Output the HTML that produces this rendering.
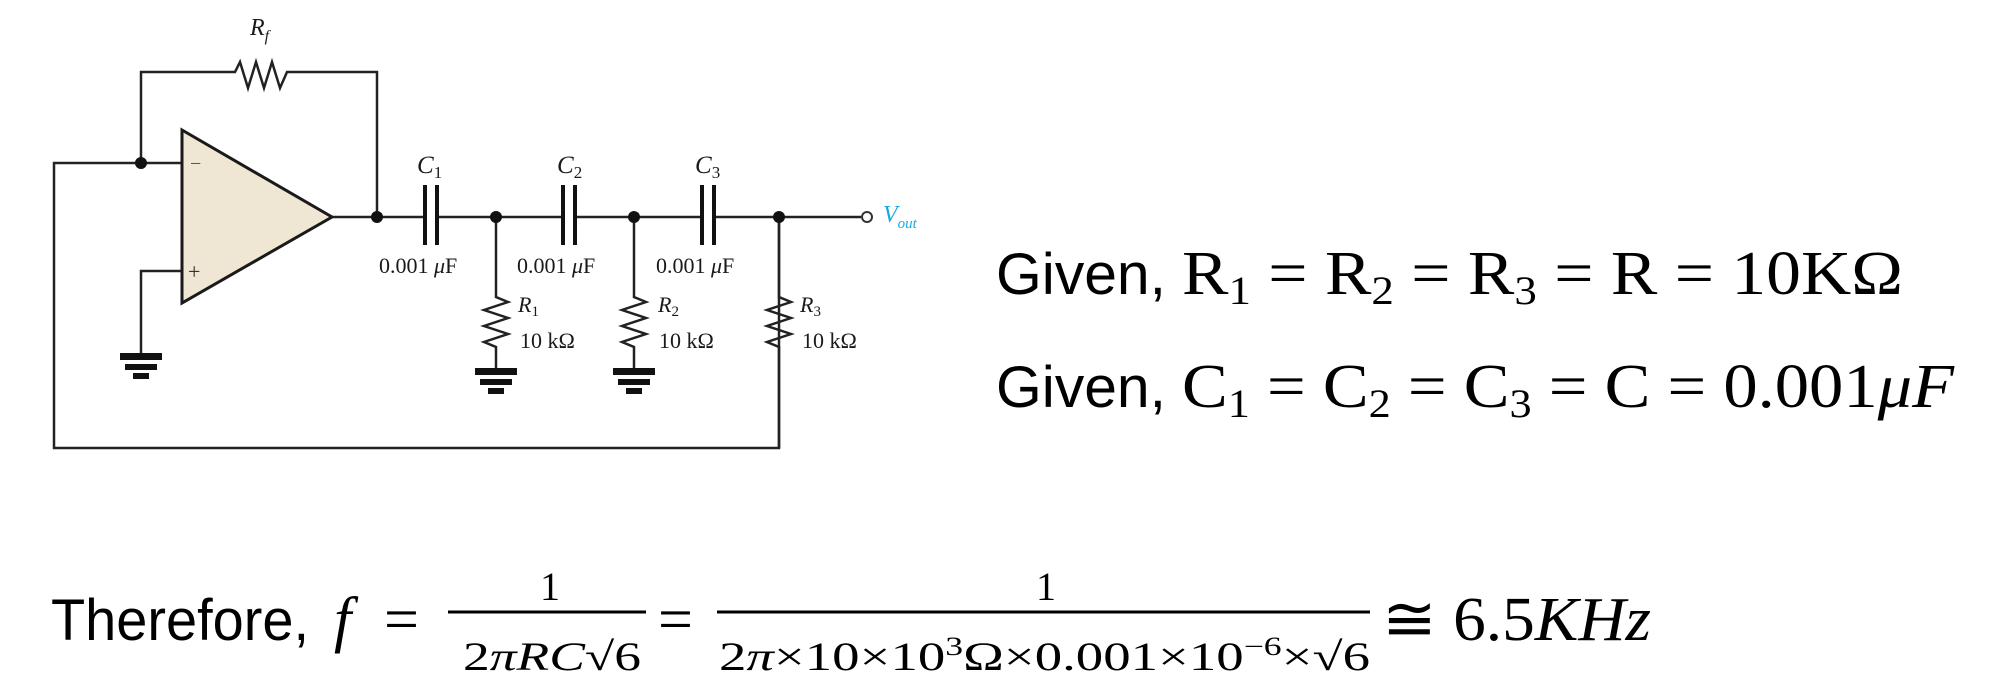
<!DOCTYPE html>
<html><head><meta charset="utf-8"><style>
html,body{margin:0;padding:0;background:#fff;}
svg{display:block;}
.t{font-family:"Liberation Serif",serif;font-size:22px;fill:#1a1a1a;}
.i{font-style:italic;}
.s{font-family:"Liberation Sans",sans-serif;font-size:58px;fill:#000;}
.m{font-family:"Liberation Serif",serif;font-size:62px;fill:#000;}
.f{font-family:"Liberation Serif",serif;fill:#000;}
</style></head><body>
<svg width="1996" height="690" viewBox="0 0 1996 690" xmlns="http://www.w3.org/2000/svg">
<g stroke="#222" stroke-width="2.5" fill="none">
<polyline points="141,163 141,72 235,72 240,62 248,88 256,62 264,88 272,62 280,88 287,72 377,72 377,217"/>
<polyline points="182,163 54,163 54,448 779,448 779,217"/>
<polyline points="182,271 141,271 141,353"/>
<line x1="332" y1="217" x2="424" y2="217"/>
<line x1="437" y1="217" x2="562" y2="217"/>
<line x1="576" y1="217" x2="701" y2="217"/>
<line x1="715" y1="217" x2="861" y2="217"/>
<polyline points="496,217 496,297 508,302 484,310 508,318 484,326 508,334 484,342 496,347 496,368"/>
<polyline points="634,217 634,297 646,302 622,310 646,318 622,326 646,334 622,342 634,347 634,368"/>
<polyline points="779,217 779,297 791,302 767,310 791,318 767,326 791,334 767,342 779,347 779,448"/>
</g>
<g stroke="#111" stroke-width="4">
<line x1="425" y1="185" x2="425" y2="245"/><line x1="437" y1="185" x2="437" y2="245"/>
<line x1="563" y1="185" x2="563" y2="245"/><line x1="575" y1="185" x2="575" y2="245"/>
<line x1="702" y1="185" x2="702" y2="245"/><line x1="714" y1="185" x2="714" y2="245"/>
</g>
<polygon points="182,130 332,217 182,303" fill="#efe6d3" stroke="#1a1a1a" stroke-width="3"/>
<text x="190" y="170" class="t" style="font-size:20px;fill:#555">−</text>
<text x="188" y="279" class="t" style="font-size:22px;fill:#333">+</text>
<g fill="#111">
<circle cx="141" cy="163" r="6"/><circle cx="377" cy="217" r="6"/>
<circle cx="496" cy="217" r="6"/><circle cx="634" cy="217" r="6"/><circle cx="779" cy="217" r="6"/>
</g>
<circle cx="867" cy="217" r="5" fill="#fff" stroke="#333" stroke-width="2"/>
<g fill="#111">
<rect x="120" y="353" width="42" height="7"/><rect x="125" y="364" width="32" height="6"/><rect x="133" y="373" width="16" height="6"/>
<rect x="475" y="368" width="42" height="7"/><rect x="480" y="379" width="32" height="6"/><rect x="488" y="388" width="16" height="6"/>
<rect x="613" y="368" width="42" height="7"/><rect x="618" y="379" width="32" height="6"/><rect x="626" y="388" width="16" height="6"/>
</g>
<text x="250" y="35" class="t i" style="font-size:24px">R<tspan class="i" style="font-size:16px" dy="6">f</tspan></text>
<text x="417" y="173" class="t i" style="font-size:25px">C<tspan style="font-size:17px;font-style:normal" dy="5">1</tspan></text>
<text x="557" y="173" class="t i" style="font-size:25px">C<tspan style="font-size:17px;font-style:normal" dy="5">2</tspan></text>
<text x="695" y="173" class="t i" style="font-size:25px">C<tspan style="font-size:17px;font-style:normal" dy="5">3</tspan></text>
<text x="379" y="273" class="t">0.001 <tspan class="i">μ</tspan>F</text>
<text x="517" y="273" class="t">0.001 <tspan class="i">μ</tspan>F</text>
<text x="656" y="273" class="t">0.001 <tspan class="i">μ</tspan>F</text>
<text x="518" y="312" class="t i">R<tspan style="font-size:15px;font-style:normal" dy="4">1</tspan></text>
<text x="658" y="312" class="t i">R<tspan style="font-size:15px;font-style:normal" dy="4">2</tspan></text>
<text x="800" y="312" class="t i">R<tspan style="font-size:15px;font-style:normal" dy="4">3</tspan></text>
<text x="520" y="348" class="t">10 kΩ</text>
<text x="659" y="348" class="t">10 kΩ</text>
<text x="802" y="348" class="t">10 kΩ</text>
<text x="883" y="222" class="t i" style="fill:#1aa7e8;font-size:24px">V<tspan style="font-size:15px" dy="6">out</tspan></text>
<text x="996" y="294" class="s" textLength="170" lengthAdjust="spacingAndGlyphs">Given,</text>
<text x="1182" y="294" class="m" textLength="721" lengthAdjust="spacingAndGlyphs">R<tspan style="font-size:40px" dy="10">1</tspan><tspan dy="-10"> = R</tspan><tspan style="font-size:40px" dy="10">2</tspan><tspan dy="-10"> = R</tspan><tspan style="font-size:40px" dy="10">3</tspan><tspan dy="-10"> = R = 10KΩ</tspan></text>
<text x="996" y="407" class="s" textLength="170" lengthAdjust="spacingAndGlyphs">Given,</text>
<text x="1182" y="407" class="m" textLength="772" lengthAdjust="spacingAndGlyphs">C<tspan style="font-size:40px" dy="10">1</tspan><tspan dy="-10"> = C</tspan><tspan style="font-size:40px" dy="10">2</tspan><tspan dy="-10"> = C</tspan><tspan style="font-size:40px" dy="10">3</tspan><tspan dy="-10"> = C = 0.001</tspan><tspan class="i">μF</tspan></text>
<text x="51" y="640" class="s" textLength="258" lengthAdjust="spacingAndGlyphs">Therefore,</text>
<text x="334" y="640" class="m i">f</text>
<text x="384" y="640" class="m">=</text>
<line x1="448" y1="612" x2="646" y2="612" stroke="#000" stroke-width="3"/>
<text x="550" y="600" class="f" style="font-size:40px" text-anchor="middle">1</text>
<text x="463" y="670" class="f" style="font-size:40px" textLength="178" lengthAdjust="spacingAndGlyphs">2<tspan class="i">πRC</tspan>√6</text>
<text x="658" y="640" class="m">=</text>
<line x1="717" y1="612" x2="1370" y2="612" stroke="#000" stroke-width="3"/>
<text x="1046" y="600" class="f" style="font-size:40px" text-anchor="middle">1</text>
<text x="719" y="670" class="f" style="font-size:40px" textLength="651" lengthAdjust="spacingAndGlyphs">2<tspan class="i">π</tspan>×10×10<tspan style="font-size:26px" dy="-15">3</tspan><tspan dy="15">Ω×0.001×10</tspan><tspan style="font-size:26px" dy="-15">−6</tspan><tspan dy="15">×√6</tspan></text>
<text x="1382" y="640" class="m" textLength="269" lengthAdjust="spacingAndGlyphs">≅ 6.5<tspan class="i">KHz</tspan></text>
</svg>
</body></html>
